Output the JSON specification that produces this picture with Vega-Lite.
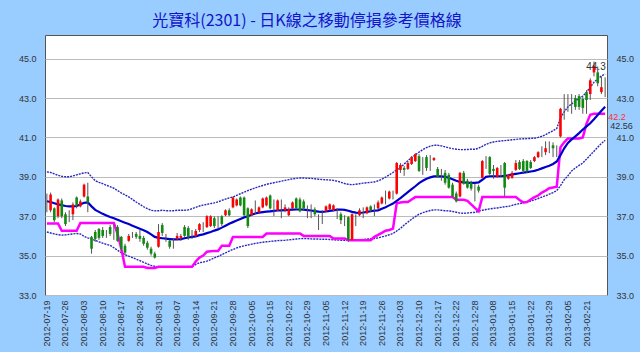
{
"$schema": "https://vega.github.io/schema/vega-lite/v6.json",
"width": 562, "height": 260,
"autosize": {"type": "none"},
"padding": {"left": 45, "top": 35, "right": 33, "bottom": 57},
"background": "#99CCFF",
"title": {"text": "光寶科(2301) - 日K線之移動停損參考價格線", "fontSize": 16, "color": "#1414C8", "font": "Noto Sans CJK TC", "fontWeight": "normal", "anchor": "middle", "frame": "group", "offset": 6, "dx": -19},
"data": {"values": [
{"d":"2012-07-19","o":37.6,"h":38.15,"l":37.2,"c":37.6,"m":37.76,"u":39.25,"w":36.2,"s":36.63},
{"d":"2012-07-20","o":37.3,"h":38.2,"l":37.2,"c":38.1,"m":37.72,"u":39.22,"w":36.15,"s":36.63},
{"d":"2012-07-23","o":37.4,"h":37.45,"l":36.7,"c":36.8,"m":37.66,"u":39.15,"w":36.1,"s":36.63},
{"d":"2012-07-24","o":37.0,"h":37.9,"l":36.9,"c":37.85,"m":37.6,"u":39.08,"w":36.06,"s":36.63},
{"d":"2012-07-25","o":37.8,"h":37.9,"l":36.9,"c":37.0,"m":37.56,"u":39.02,"w":36.04,"s":36.26},
{"d":"2012-07-26","o":37.1,"h":37.2,"l":36.5,"c":36.6,"m":37.52,"u":39.0,"w":36.05,"s":36.26},
{"d":"2012-07-27","o":36.9,"h":37.3,"l":36.7,"c":36.9,"m":37.5,"u":39.0,"w":36.08,"s":36.26},
{"d":"2012-07-30","o":37.1,"h":37.7,"l":36.8,"c":37.6,"m":37.5,"u":39.05,"w":36.1,"s":36.26},
{"d":"2012-07-31","o":37.95,"h":38.0,"l":37.4,"c":37.55,"m":37.52,"u":39.1,"w":36.12,"s":36.26},
{"d":"2012-08-01","o":37.5,"h":37.85,"l":37.45,"c":37.75,"m":37.6,"u":39.15,"w":36.1,"s":36.66},
{"d":"2012-08-03","o":38.0,"h":38.65,"l":37.95,"c":38.6,"m":37.68,"u":39.2,"w":35.98,"s":36.66},
{"d":"2012-08-06","o":38.0,"h":38.7,"l":37.2,"c":37.7,"m":37.7,"u":39.22,"w":35.9,"s":36.66},
{"d":"2012-08-07","o":35.95,"h":36.0,"l":35.1,"c":35.35,"m":37.5,"u":39.0,"w":35.84,"s":36.66},
{"d":"2012-08-08","o":36.2,"h":36.3,"l":35.7,"c":35.85,"m":37.32,"u":38.8,"w":35.77,"s":36.66},
{"d":"2012-08-09","o":36.35,"h":36.4,"l":35.8,"c":35.9,"m":37.22,"u":38.72,"w":35.7,"s":36.66},
{"d":"2012-08-10","o":36.3,"h":36.45,"l":35.9,"c":36.0,"m":37.12,"u":38.65,"w":35.63,"s":36.66},
{"d":"2012-08-13","o":36.1,"h":36.3,"l":35.9,"c":36.1,"m":37.04,"u":38.57,"w":35.57,"s":36.66},
{"d":"2012-08-14","o":36.45,"h":36.55,"l":36.0,"c":36.1,"m":36.96,"u":38.5,"w":35.52,"s":36.66},
{"d":"2012-08-15","o":36.3,"h":36.6,"l":35.8,"c":36.3,"m":36.9,"u":38.42,"w":35.4,"s":36.66},
{"d":"2012-08-16","o":36.45,"h":36.55,"l":35.7,"c":35.75,"m":36.82,"u":38.3,"w":35.27,"s":36.1},
{"d":"2012-08-17","o":35.95,"h":36.0,"l":35.25,"c":35.35,"m":36.74,"u":38.18,"w":35.15,"s":35.35},
{"d":"2012-08-20","o":35.5,"h":35.6,"l":35.0,"c":35.15,"m":36.67,"u":38.08,"w":35.05,"s":34.43},
{"d":"2012-08-21","o":35.75,"h":36.1,"l":35.7,"c":36.0,"m":36.6,"u":37.98,"w":34.97,"s":34.43},
{"d":"2012-08-22","o":36.05,"h":36.2,"l":35.9,"c":36.05,"m":36.52,"u":37.85,"w":34.9,"s":34.43},
{"d":"2012-08-23","o":36.1,"h":36.2,"l":35.85,"c":35.95,"m":36.44,"u":37.72,"w":34.82,"s":34.43},
{"d":"2012-08-24","o":36.0,"h":36.3,"l":35.7,"c":35.85,"m":36.36,"u":37.6,"w":34.74,"s":34.43},
{"d":"2012-08-27","o":35.9,"h":36.0,"l":35.5,"c":35.6,"m":36.29,"u":37.48,"w":34.66,"s":34.43},
{"d":"2012-08-28","o":35.65,"h":35.75,"l":35.3,"c":35.4,"m":36.2,"u":37.38,"w":34.58,"s":34.37},
{"d":"2012-08-29","o":35.35,"h":35.45,"l":35.0,"c":35.1,"m":36.08,"u":37.3,"w":34.5,"s":34.37},
{"d":"2012-08-30","o":35.1,"h":35.2,"l":34.85,"c":34.9,"m":35.95,"u":37.27,"w":34.45,"s":34.37},
{"d":"2012-08-31","o":35.45,"h":36.6,"l":35.4,"c":36.2,"m":35.9,"u":37.28,"w":34.42,"s":34.43},
{"d":"2012-09-03","o":36.55,"h":36.65,"l":36.0,"c":36.15,"m":35.88,"u":37.3,"w":34.4,"s":34.43},
{"d":"2012-09-04","o":35.9,"h":36.1,"l":35.7,"c":35.9,"m":35.86,"u":37.28,"w":34.4,"s":34.43},
{"d":"2012-09-05","o":35.75,"h":35.8,"l":35.35,"c":35.45,"m":35.84,"u":37.27,"w":34.4,"s":34.43},
{"d":"2012-09-06","o":35.7,"h":35.85,"l":35.35,"c":35.7,"m":35.82,"u":37.28,"w":34.41,"s":34.43},
{"d":"2012-09-07","o":35.85,"h":36.15,"l":35.8,"c":36.0,"m":35.82,"u":37.3,"w":34.42,"s":34.43},
{"d":"2012-09-10","o":35.9,"h":36.1,"l":35.75,"c":36.0,"m":35.84,"u":37.3,"w":34.42,"s":34.43},
{"d":"2012-09-11","o":36.45,"h":36.55,"l":35.95,"c":36.0,"m":35.88,"u":37.3,"w":34.43,"s":34.43},
{"d":"2012-09-12","o":36.4,"h":36.5,"l":35.8,"c":35.95,"m":35.92,"u":37.32,"w":34.43,"s":34.43},
{"d":"2012-09-13","o":36.15,"h":36.3,"l":35.85,"c":36.15,"m":35.95,"u":37.38,"w":34.44,"s":34.43},
{"d":"2012-09-14","o":36.0,"h":36.35,"l":35.95,"c":36.25,"m":35.98,"u":37.45,"w":34.55,"s":34.7},
{"d":"2012-09-17","o":36.3,"h":36.65,"l":36.2,"c":36.6,"m":36.04,"u":37.52,"w":34.64,"s":34.9},
{"d":"2012-09-18","o":36.5,"h":36.7,"l":36.2,"c":36.5,"m":36.08,"u":37.56,"w":34.67,"s":35.0},
{"d":"2012-09-19","o":36.45,"h":37.05,"l":36.4,"c":37.0,"m":36.14,"u":37.6,"w":34.72,"s":35.2},
{"d":"2012-09-20","o":36.5,"h":37.05,"l":36.45,"c":37.0,"m":36.2,"u":37.64,"w":34.8,"s":35.22},
{"d":"2012-09-21","o":36.9,"h":37.0,"l":36.4,"c":36.5,"m":36.27,"u":37.68,"w":34.88,"s":35.24},
{"d":"2012-09-24","o":36.7,"h":37.0,"l":36.4,"c":36.7,"m":36.33,"u":37.73,"w":34.96,"s":35.24},
{"d":"2012-09-25","o":37.0,"h":37.05,"l":36.5,"c":36.6,"m":36.42,"u":37.8,"w":35.05,"s":35.5},
{"d":"2012-09-26","o":37.05,"h":37.35,"l":37.0,"c":37.3,"m":36.52,"u":37.87,"w":35.14,"s":35.5},
{"d":"2012-09-27","o":37.3,"h":37.4,"l":37.0,"c":37.05,"m":36.62,"u":37.93,"w":35.23,"s":35.5},
{"d":"2012-09-28","o":37.45,"h":38.0,"l":37.4,"c":37.95,"m":36.7,"u":37.98,"w":35.31,"s":35.95},
{"d":"2012-10-01","o":37.55,"h":37.9,"l":37.5,"c":37.85,"m":36.78,"u":38.06,"w":35.39,"s":35.95},
{"d":"2012-10-02","o":37.95,"h":38.0,"l":37.5,"c":37.55,"m":36.86,"u":38.14,"w":35.45,"s":35.95},
{"d":"2012-10-03","o":37.95,"h":38.0,"l":37.0,"c":37.05,"m":36.94,"u":38.22,"w":35.5,"s":35.95},
{"d":"2012-10-04","o":37.4,"h":37.45,"l":36.4,"c":36.5,"m":37.0,"u":38.3,"w":35.54,"s":35.95},
{"d":"2012-10-05","o":37.05,"h":37.4,"l":37.0,"c":37.35,"m":37.07,"u":38.37,"w":35.58,"s":35.95},
{"d":"2012-10-08","o":37.5,"h":37.8,"l":37.1,"c":37.5,"m":37.14,"u":38.44,"w":35.62,"s":35.95},
{"d":"2012-10-09","o":37.2,"h":37.5,"l":37.15,"c":37.45,"m":37.18,"u":38.5,"w":35.65,"s":35.95},
{"d":"2012-10-11","o":37.45,"h":37.95,"l":37.4,"c":37.9,"m":37.21,"u":38.56,"w":35.68,"s":35.95},
{"d":"2012-10-12","o":37.55,"h":38.0,"l":37.5,"c":37.95,"m":37.23,"u":38.62,"w":35.7,"s":36.12},
{"d":"2012-10-15","o":38.05,"h":38.1,"l":37.35,"c":37.4,"m":37.25,"u":38.66,"w":35.72,"s":36.12},
{"d":"2012-10-16","o":37.6,"h":37.85,"l":37.0,"c":37.6,"m":37.27,"u":38.7,"w":35.74,"s":36.12},
{"d":"2012-10-17","o":37.3,"h":37.85,"l":37.25,"c":37.8,"m":37.29,"u":38.74,"w":35.76,"s":36.12},
{"d":"2012-10-18","o":37.55,"h":37.85,"l":36.9,"c":37.55,"m":37.3,"u":38.78,"w":35.77,"s":36.12},
{"d":"2012-10-19","o":37.3,"h":37.6,"l":37.2,"c":37.45,"m":37.31,"u":38.82,"w":35.78,"s":36.12},
{"d":"2012-10-22","o":37.05,"h":37.45,"l":37.0,"c":37.35,"m":37.32,"u":38.86,"w":35.8,"s":36.12},
{"d":"2012-10-23","o":37.4,"h":37.75,"l":37.35,"c":37.7,"m":37.33,"u":38.9,"w":35.82,"s":36.12},
{"d":"2012-10-24","o":37.9,"h":37.95,"l":37.35,"c":37.4,"m":37.34,"u":38.92,"w":35.84,"s":36.12},
{"d":"2012-10-25","o":37.85,"h":37.95,"l":37.2,"c":37.25,"m":37.34,"u":38.94,"w":35.86,"s":36.12},
{"d":"2012-10-26","o":37.75,"h":37.85,"l":37.3,"c":37.4,"m":37.33,"u":38.94,"w":35.87,"s":36.0},
{"d":"2012-10-29","o":37.3,"h":37.55,"l":36.9,"c":37.3,"m":37.31,"u":38.93,"w":35.86,"s":36.0},
{"d":"2012-10-30","o":37.4,"h":37.6,"l":36.9,"c":37.4,"m":37.29,"u":38.92,"w":35.85,"s":36.0},
{"d":"2012-10-31","o":37.35,"h":37.45,"l":37.0,"c":37.1,"m":37.26,"u":38.9,"w":35.84,"s":36.0},
{"d":"2012-11-01","o":36.95,"h":37.1,"l":36.3,"c":36.95,"m":37.23,"u":38.88,"w":35.84,"s":36.0},
{"d":"2012-11-02","o":37.15,"h":37.3,"l":36.6,"c":37.15,"m":37.22,"u":38.86,"w":35.83,"s":36.0},
{"d":"2012-11-05","o":37.25,"h":37.55,"l":37.2,"c":37.5,"m":37.24,"u":38.85,"w":35.83,"s":36.0},
{"d":"2012-11-06","o":37.35,"h":37.65,"l":37.3,"c":37.6,"m":37.27,"u":38.84,"w":35.82,"s":36.0},
{"d":"2012-11-07","o":37.3,"h":37.6,"l":37.25,"c":37.55,"m":37.3,"u":38.82,"w":35.8,"s":35.87},
{"d":"2012-11-08","o":37.2,"h":37.4,"l":36.85,"c":37.2,"m":37.33,"u":38.78,"w":35.79,"s":35.87},
{"d":"2012-11-09","o":37.1,"h":37.2,"l":36.6,"c":36.8,"m":37.34,"u":38.72,"w":35.78,"s":35.87},
{"d":"2012-11-12","o":36.95,"h":37.05,"l":36.5,"c":36.95,"m":37.32,"u":38.66,"w":35.78,"s":35.87},
{"d":"2012-11-13","o":36.95,"h":37.0,"l":35.7,"c":35.8,"m":37.28,"u":38.62,"w":35.78,"s":35.78},
{"d":"2012-11-14","o":35.8,"h":37.15,"l":35.75,"c":37.1,"m":37.22,"u":38.6,"w":35.78,"s":35.78},
{"d":"2012-11-15","o":37.0,"h":37.1,"l":36.5,"c":37.0,"m":37.18,"u":38.62,"w":35.78,"s":35.78},
{"d":"2012-11-16","o":37.05,"h":37.4,"l":37.0,"c":37.3,"m":37.17,"u":38.65,"w":35.8,"s":35.78},
{"d":"2012-11-19","o":37.3,"h":37.45,"l":36.9,"c":37.3,"m":37.19,"u":38.68,"w":35.82,"s":35.78},
{"d":"2012-11-20","o":37.15,"h":37.5,"l":37.1,"c":37.45,"m":37.22,"u":38.7,"w":35.84,"s":35.78},
{"d":"2012-11-21","o":37.5,"h":37.55,"l":37.2,"c":37.3,"m":37.25,"u":38.72,"w":35.86,"s":35.78},
{"d":"2012-11-22","o":37.35,"h":37.6,"l":37.0,"c":37.35,"m":37.28,"u":38.74,"w":35.87,"s":35.95},
{"d":"2012-11-23","o":37.4,"h":37.8,"l":37.35,"c":37.7,"m":37.3,"u":38.8,"w":35.9,"s":36.05},
{"d":"2012-11-26","o":37.65,"h":38.0,"l":37.6,"c":37.95,"m":37.38,"u":38.88,"w":35.95,"s":36.15},
{"d":"2012-11-27","o":37.95,"h":38.3,"l":37.6,"c":37.95,"m":37.46,"u":38.98,"w":36.0,"s":36.26},
{"d":"2012-11-28","o":37.9,"h":38.3,"l":37.85,"c":38.25,"m":37.55,"u":39.1,"w":36.06,"s":36.3},
{"d":"2012-11-29","o":38.2,"h":38.3,"l":37.85,"c":38.2,"m":37.64,"u":39.22,"w":36.12,"s":36.37},
{"d":"2012-11-30","o":38.15,"h":39.75,"l":38.1,"c":39.7,"m":37.78,"u":39.35,"w":36.25,"s":37.66},
{"d":"2012-12-03","o":39.35,"h":39.7,"l":39.2,"c":39.6,"m":37.92,"u":39.48,"w":36.38,"s":37.7},
{"d":"2012-12-04","o":39.45,"h":39.55,"l":39.05,"c":39.35,"m":38.07,"u":39.65,"w":36.55,"s":37.72},
{"d":"2012-12-05","o":39.4,"h":39.8,"l":39.35,"c":39.7,"m":38.22,"u":39.82,"w":36.7,"s":37.72},
{"d":"2012-12-06","o":39.65,"h":40.05,"l":39.6,"c":40.0,"m":38.37,"u":39.98,"w":36.85,"s":37.85},
{"d":"2012-12-07","o":39.8,"h":40.2,"l":39.75,"c":40.15,"m":38.52,"u":40.12,"w":36.98,"s":37.97},
{"d":"2012-12-10","o":40.05,"h":40.15,"l":39.25,"c":39.3,"m":38.68,"u":40.25,"w":37.1,"s":37.97},
{"d":"2012-12-11","o":39.7,"h":40.0,"l":39.1,"c":39.7,"m":38.8,"u":40.38,"w":37.18,"s":37.97},
{"d":"2012-12-12","o":40.0,"h":40.1,"l":39.3,"c":39.45,"m":38.9,"u":40.48,"w":37.24,"s":37.97},
{"d":"2012-12-13","o":39.7,"h":40.1,"l":39.3,"c":39.7,"m":38.97,"u":40.56,"w":37.29,"s":37.97},
{"d":"2012-12-14","o":39.85,"h":40.0,"l":39.8,"c":39.95,"m":39.02,"u":40.6,"w":37.32,"s":37.97},
{"d":"2012-12-17","o":39.4,"h":39.5,"l":38.95,"c":39.0,"m":39.03,"u":40.6,"w":37.32,"s":37.97},
{"d":"2012-12-18","o":39.3,"h":39.4,"l":38.8,"c":39.3,"m":39.02,"u":40.57,"w":37.3,"s":37.97},
{"d":"2012-12-19","o":39.2,"h":39.35,"l":38.6,"c":38.7,"m":39.0,"u":40.52,"w":37.28,"s":37.97},
{"d":"2012-12-20","o":39.1,"h":39.2,"l":38.4,"c":38.45,"m":38.95,"u":40.47,"w":37.27,"s":37.97},
{"d":"2012-12-21","o":38.6,"h":38.7,"l":37.95,"c":38.0,"m":38.88,"u":40.43,"w":37.24,"s":37.97},
{"d":"2012-12-22","o":38.15,"h":38.25,"l":37.7,"c":37.75,"m":38.8,"u":40.4,"w":37.2,"s":37.83},
{"d":"2012-12-24","o":38.0,"h":39.25,"l":37.95,"c":39.2,"m":38.74,"u":40.38,"w":37.16,"s":37.83},
{"d":"2012-12-25","o":39.2,"h":39.3,"l":38.6,"c":38.65,"m":38.72,"u":40.38,"w":37.15,"s":37.83},
{"d":"2012-12-26","o":38.8,"h":38.9,"l":38.4,"c":38.45,"m":38.7,"u":40.39,"w":37.16,"s":37.78},
{"d":"2012-12-27","o":38.7,"h":38.8,"l":38.3,"c":38.4,"m":38.69,"u":40.4,"w":37.18,"s":37.6},
{"d":"2012-12-28","o":38.6,"h":38.65,"l":37.75,"c":38.6,"m":38.69,"u":40.4,"w":37.2,"s":37.42},
{"d":"2013-01-02","o":38.5,"h":38.6,"l":38.2,"c":38.3,"m":38.72,"u":40.45,"w":37.25,"s":37.25},
{"d":"2013-01-03","o":38.95,"h":39.85,"l":38.9,"c":39.8,"m":38.85,"u":40.55,"w":37.3,"s":37.97},
{"d":"2013-01-04","o":39.6,"h":40.05,"l":39.4,"c":39.6,"m":39.0,"u":40.65,"w":37.34,"s":37.97},
{"d":"2013-01-07","o":40.0,"h":40.05,"l":39.1,"c":39.15,"m":39.03,"u":40.72,"w":37.37,"s":37.97},
{"d":"2013-01-08","o":39.4,"h":39.6,"l":38.9,"c":39.3,"m":39.03,"u":40.77,"w":37.4,"s":37.97},
{"d":"2013-01-09","o":39.0,"h":39.5,"l":38.95,"c":39.45,"m":39.03,"u":40.8,"w":37.42,"s":37.97},
{"d":"2013-01-10","o":39.4,"h":39.6,"l":39.0,"c":39.4,"m":39.03,"u":40.82,"w":37.45,"s":37.97},
{"d":"2013-01-11","o":39.7,"h":39.75,"l":38.0,"c":38.45,"m":39.05,"u":40.84,"w":37.48,"s":37.97},
{"d":"2013-01-14","o":38.9,"h":39.15,"l":38.85,"c":39.1,"m":39.08,"u":40.86,"w":37.5,"s":37.97},
{"d":"2013-01-15","o":38.95,"h":39.3,"l":38.9,"c":39.2,"m":39.12,"u":40.88,"w":37.55,"s":37.97},
{"d":"2013-01-16","o":39.35,"h":39.85,"l":39.3,"c":39.7,"m":39.15,"u":40.9,"w":37.6,"s":37.97},
{"d":"2013-01-17","o":39.75,"h":39.85,"l":39.35,"c":39.4,"m":39.18,"u":40.92,"w":37.64,"s":37.82},
{"d":"2013-01-18","o":39.8,"h":39.9,"l":39.2,"c":39.3,"m":39.21,"u":40.93,"w":37.68,"s":37.7},
{"d":"2013-01-21","o":39.8,"h":39.85,"l":39.2,"c":39.3,"m":39.24,"u":40.94,"w":37.72,"s":37.72},
{"d":"2013-01-22","o":39.75,"h":39.85,"l":39.4,"c":39.45,"m":39.27,"u":40.95,"w":37.77,"s":37.85},
{"d":"2013-01-23","o":39.8,"h":40.05,"l":39.75,"c":40.0,"m":39.3,"u":40.96,"w":37.83,"s":37.97},
{"d":"2013-01-24","o":40.0,"h":40.3,"l":39.95,"c":40.25,"m":39.36,"u":41.0,"w":37.9,"s":38.05},
{"d":"2013-01-25","o":40.3,"h":40.55,"l":40.0,"c":40.3,"m":39.43,"u":41.06,"w":37.97,"s":38.2},
{"d":"2013-01-28","o":40.25,"h":40.8,"l":40.1,"c":40.45,"m":39.5,"u":41.14,"w":38.04,"s":38.3},
{"d":"2013-01-29","o":40.5,"h":40.8,"l":40.2,"c":40.5,"m":39.56,"u":41.24,"w":38.12,"s":38.42},
{"d":"2013-01-30","o":40.6,"h":40.75,"l":40.0,"c":40.45,"m":39.65,"u":41.34,"w":38.2,"s":38.46},
{"d":"2013-01-31","o":40.4,"h":40.6,"l":40.0,"c":40.4,"m":39.78,"u":41.45,"w":38.3,"s":38.5},
{"d":"2013-02-01","o":41.05,"h":42.5,"l":41.0,"c":42.45,"m":40.1,"u":42.0,"w":38.55,"s":40.5},
{"d":"2013-02-04","o":42.6,"h":43.2,"l":41.9,"c":42.6,"m":40.45,"u":42.3,"w":38.85,"s":40.75},
{"d":"2013-02-05","o":42.8,"h":43.2,"l":42.3,"c":42.8,"m":40.72,"u":42.55,"w":39.05,"s":40.95},
{"d":"2013-02-06","o":42.7,"h":43.2,"l":42.2,"c":42.7,"m":40.9,"u":42.7,"w":39.3,"s":40.95},
{"d":"2013-02-18","o":43.0,"h":43.15,"l":42.4,"c":42.55,"m":41.05,"u":42.85,"w":39.45,"s":40.95},
{"d":"2013-02-19","o":43.1,"h":43.2,"l":42.4,"c":42.55,"m":41.22,"u":42.98,"w":39.58,"s":40.95},
{"d":"2013-02-20","o":42.95,"h":43.05,"l":42.2,"c":42.5,"m":41.4,"u":43.1,"w":39.7,"s":41.0},
{"d":"2013-02-21","o":43.3,"h":43.4,"l":42.2,"c":42.9,"m":41.56,"u":43.3,"w":39.9,"s":41.7},
{"d":"2013-02-22","o":43.2,"h":44.0,"l":42.9,"c":43.9,"m":41.72,"u":43.55,"w":40.1,"s":42.15},
{"d":"2013-02-23","o":44.3,"h":44.85,"l":44.1,"c":44.65,"m":41.92,"u":43.8,"w":40.3,"s":42.2},
{"d":"2013-02-25","o":44.3,"h":44.6,"l":43.6,"c":43.75,"m":42.14,"u":43.97,"w":40.5,"s":42.2},
{"d":"2013-02-26","o":43.3,"h":44.1,"l":43.2,"c":43.55,"m":42.35,"u":44.12,"w":40.7,"s":42.2},
{"d":"2013-02-27","o":43.5,"h":44.05,"l":43.05,"c":43.5,"m":42.56,"u":44.22,"w":40.85,"s":42.2}
]},
"encoding": {
  "x": {"field": "d", "type": "ordinal",
    "scale": {"paddingInner": 0.3, "paddingOuter": 0.15},
    "axis": {"title": null, "labelAngle": -90, "labelFontSize": 9, "labelColor": "#333333", "labelFont": "Liberation Sans", "ticks": false, "domain": false, "labelPadding": 5, "grid": false,
      "values": ["2012-07-19","2012-07-26","2012-08-03","2012-08-10","2012-08-17","2012-08-24","2012-08-31","2012-09-07","2012-09-14","2012-09-21","2012-09-28","2012-10-05","2012-10-15","2012-10-22","2012-10-29","2012-11-05","2012-11-12","2012-11-19","2012-11-26","2012-12-03","2012-12-10","2012-12-17","2012-12-22","2012-12-28","2013-01-08","2013-01-15","2013-01-22","2013-01-29","2013-02-05","2013-02-21"]}}
},
"layer": [
  {"mark": {"type": "line", "color": "#2828C0", "strokeWidth": 1.4, "strokeDash": [2, 1]},
   "encoding": {"y": {"field": "u", "type": "quantitative", "scale": {"domain": [33, 46.2], "nice": false, "zero": false},
     "axis": {"orient": "left", "title": null, "values": [33, 35, 37, 39, 41, 43, 45], "format": ".1f", "labelFontSize": 9, "labelColor": "#333333", "labelFont": "Liberation Sans", "ticks": false, "tickSize": 0, "domain": false, "labelPadding": 9, "grid": true, "gridColor": "#BBBBBB", "gridWidth": 1}}}},
  {"mark": {"type": "line", "color": "#2828C0", "strokeWidth": 1.4, "strokeDash": [2, 1]},
   "encoding": {"y": {"field": "w", "type": "quantitative",
     "axis": {"orient": "right", "title": null, "values": [33, 35, 37, 39, 41, 43, 45], "format": ".1f", "labelFontSize": 9, "labelColor": "#333333", "labelFont": "Liberation Sans", "ticks": false, "tickSize": 0, "domain": false, "labelPadding": 9, "grid": false}}}},
  {"mark": {"type": "line", "color": "#FF00FF", "strokeWidth": 2.5},
   "encoding": {"y": {"field": "s", "type": "quantitative", "axis": null}}},
  {"mark": {"type": "line", "color": "#0000CC", "strokeWidth": 2.2},
   "encoding": {"y": {"field": "m", "type": "quantitative", "axis": null}}},
  {"mark": {"type": "rule", "color": "#555555", "strokeWidth": 1},
   "encoding": {"y": {"field": "l", "type": "quantitative", "axis": null}, "y2": {"field": "h"}}},
  {"mark": {"type": "bar"},
   "encoding": {"y": {"field": "o", "type": "quantitative", "axis": null}, "y2": {"field": "c"},
     "color": {"condition": [{"test": "datum.c > datum.o", "value": "#FF0000"}, {"test": "datum.c < datum.o", "value": "#108A10"}], "value": "#808080"}}},
  {"transform": [{"filter": "datum.d == '2013-02-23'"}],
   "mark": {"type": "text", "text": "44.3", "align": "center", "baseline": "top", "dx": 2, "fontSize": 10, "font": "Liberation Sans", "color": "#333333"},
   "encoding": {"y": {"field": "h", "type": "quantitative", "axis": null}}},
  {"transform": [{"filter": "datum.d == '2013-02-27'"}],
   "mark": {"type": "text", "align": "left", "baseline": "middle", "dx": 3, "dy": 3, "fontSize": 9, "font": "Liberation Sans", "color": "#FF3030"},
   "encoding": {"y": {"field": "s", "type": "quantitative", "axis": null}, "text": {"field": "s", "type": "quantitative", "format": ".1f"}}},
  {"transform": [{"filter": "datum.d == '2013-02-27'"}],
   "mark": {"type": "text", "align": "left", "baseline": "middle", "dx": 5, "dy": 19, "fontSize": 9, "font": "Liberation Sans", "color": "#333333"},
   "encoding": {"y": {"field": "m", "type": "quantitative", "axis": null}, "text": {"field": "m", "type": "quantitative", "format": ".2f"}}}
],
"resolve": {"axis": {"y": "independent"}},
"config": {"view": {"stroke": "#555555", "fill": "#FFFFFF"}}
}
